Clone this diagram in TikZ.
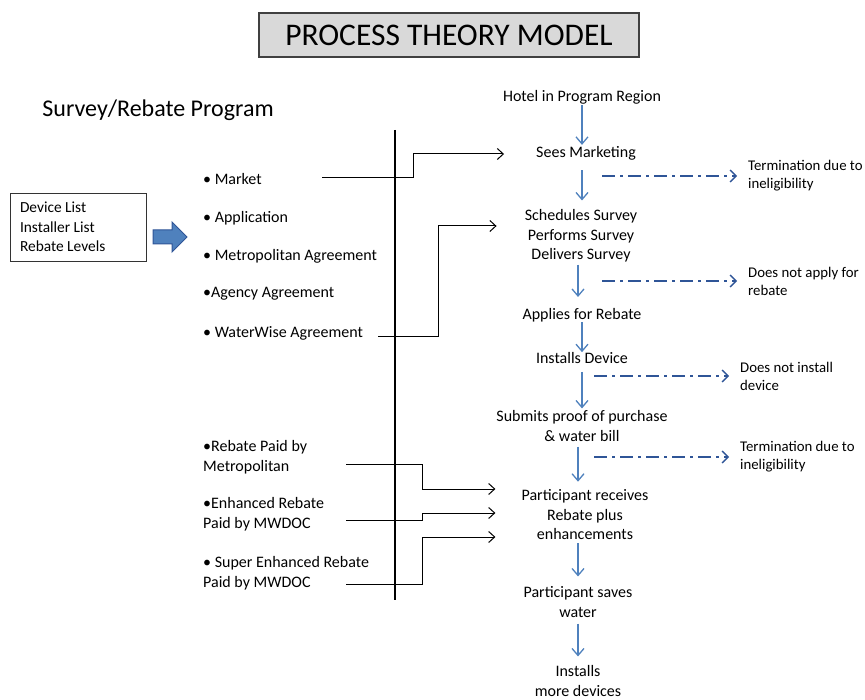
\documentclass[tikz,border=0pt]{standalone}
\usepackage{fontspec}
\setmainfont{Carlito}
\usetikzlibrary{arrows.meta}
\definecolor{flowblue}{HTML}{4F81BD}
\definecolor{exitblue}{HTML}{2F5597}
\definecolor{titlegray}{HTML}{D9D9D9}
\tikzset{
  txt/.style={font=\fontsize{16}{19.5}\selectfont, align=center, inner sep=0pt},
  item/.style={font=\fontsize{16}{19.5}\selectfont, align=left, anchor=west, inner sep=0pt},
  note/.style={font=\fontsize{14.8}{18}\selectfont, align=left, anchor=west, inner sep=0pt},
  flow/.style={-{Straight Barb[length=7pt,width=12pt]}, color=flowblue, line width=1.3pt},
  exit/.style={-{Straight Barb[length=6pt,width=12pt]}, color=exitblue, line width=1.4pt,
    dash pattern=on 13pt off 5pt on 3pt off 5pt},
  feed/.style={-{Straight Barb[length=6pt,width=11pt]}, line width=1pt},
  blk/.style={fill=flowblue, draw=exitblue, line width=1pt},
}
\begin{document}
\begin{tikzpicture}[x=1pt, y=-1pt]
\useasboundingbox (0,0) rectangle (865,700);

\node (title) [draw=black!75, line width=1.5pt, fill=titlegray, minimum width=380pt, minimum height=44pt,
  font=\fontsize{31.5}{36}\selectfont] at (449,35) {PROCESS THEORY MODEL};
\node (prog) [font=\fontsize{24}{28}\selectfont, inner sep=0pt] at (158,110) {Survey/Rebate Program};

\node (lists) [draw=black!80, line width=0.8pt, align=flush left, text width=116pt, inner xsep=10pt,
  minimum height=68pt, font=\fontsize{15.4}{19.5}\selectfont] at (78,227)
  {Device List\\Installer List\\Rebate Levels};
\draw [blk] (153,230) -- (172,230) -- (172,222) -- (187,237) -- (172,252) -- (172,244) -- (153,244) -- cycle;

\node (market) [item] at (203,179) {• Market};
\node (appl) [item] at (203,218) {• Application};
\node (metro) [item] at (203,256) {• Metropolitan Agreement};
\node (agency) [item] at (203,294) {•Agency Agreement};
\node (wwise) [item] at (203,333) {• WaterWise Agreement};
\node (paid1) [item] at (203,457) {•Rebate Paid by\\Metropolitan};
\node (paid2) [item] at (203,514) {•Enhanced Rebate\\Paid by MWDOC};
\node (paid3) [item] at (203,573) {• Super Enhanced Rebate\\Paid by MWDOC};

\coordinate (bartop) at (395,130);
\coordinate (barbot) at (395,600);
\draw [line width=2.2pt] (bartop) -- (barbot);

\node (hotel) [txt] at (582,97) {Hotel in Program Region};
\node (sees) [txt] at (586,153) {Sees Marketing};
\node (sched) [txt] at (581,236) {Schedules Survey\\Performs Survey\\Delivers Survey};
\node (applies) [txt] at (582,315) {Applies for Rebate};
\node (installs) [txt] at (582,358) {Installs Device};
\node (submits) [txt] at (582,426) {Submits proof of purchase\\\& water bill};
\node (receives) [txt] at (585,515) {Participant receives\\Rebate plus\\enhancements};
\node (saves) [txt] at (578,602) {Participant saves\\water};
\node (more) [txt] at (578,681) {Installs\\more devices};

\node (term1) [note] at (748,176) {Termination due to\\ineligibility};
\node (noapply) [note] at (748,281) {Does not apply for\\rebate};
\node (noinst) [note] at (740,376) {Does not install\\device};
\node (term2) [note] at (740,457) {Termination due to\\ineligibility};

\coordinate (col) at (582,0);
\coordinate (col2) at (578,0);
\path [flow, shorten <=1pt, shorten >=1pt] (hotel.south -| col) edge (sees.north -| col);
\path [flow, shorten <=10pt, shorten >=9pt] (sees.south -| col) edge (sched.north -| col);
\path [flow, shorten <=2pt, shorten >=11pt] (sched.south -| col2) edge (applies.north -| col2);
\path [flow, shorten <=0pt, shorten >=0pt] (applies.south -| col) edge (installs.north -| col);
\path [flow, shorten <=8pt, shorten >=2pt] (installs.south -| col) edge (submits.north -| col);
\path [flow, shorten <=5pt, shorten >=8pt] (submits.south -| col2) edge (receives.north -| col2);
\path [flow, shorten <=3pt, shorten >=10pt] (receives.south -| col2) edge (saves.north -| col2);
\path [flow, shorten <=6pt, shorten >=9pt] (saves.south -| col2) edge (more.north -| col2);

\coordinate (x1) at (602,176);
\coordinate (x2) at (602,281);
\coordinate (x3) at (594,376);
\coordinate (x4) at (594,457);
\path [exit, shorten >=11pt] (x1) edge (term1.west);
\path [exit, shorten >=11pt] (x2) edge (noapply.west);
\path [exit, shorten >=11pt] (x3) edge (noinst.west);
\path [exit, shorten >=11pt] (x4) edge (term2.west);

\coordinate (m1) at (322,178);
\coordinate (w1) at (378,337);
\coordinate (r1) at (346,464);
\coordinate (r2) at (346,520);
\coordinate (r3) at (346,584);
\draw [feed] (m1) -- (413,178) |- ([xshift=-32pt,yshift=-1pt]sees.west);
\draw [feed] (w1) -- (438,337) |- ([xshift=-28pt,yshift=10pt]sched.west);
\draw [feed] (r1) -- (422,464) |- ([xshift=-26pt,yshift=26pt]receives.west);
\draw [feed] (r2) -- (422,520) |- ([xshift=-26pt,yshift=2pt]receives.west);
\draw [feed] (r3) -- (422,584) |- ([xshift=-26pt,yshift=-22pt]receives.west);

\end{tikzpicture}
\end{document}
